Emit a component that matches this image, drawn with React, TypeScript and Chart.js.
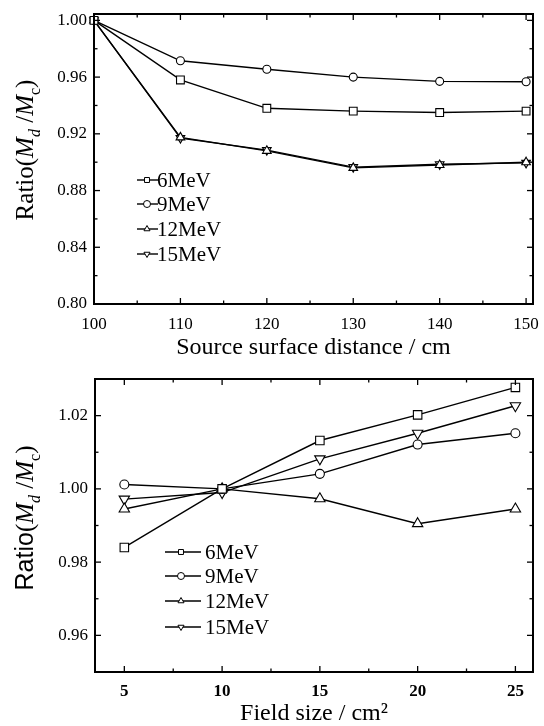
import { useEffect, useRef } from "react";
import { Chart, registerables } from "chart.js";

Chart.register(...registerables);

const SERIF = '"Liberation Serif", "Times New Roman", serif';
const SANS = '"Liberation Sans", Arial, sans-serif';

// ---- shared series info ----
const seriesNames = ["6MeV", "9MeV", "12MeV", "15MeV"];
const pointStyles = ["rect", "circle", "triangle", "triangle"];
const pointRotations = [0, 0, 0, 180];

// ---- top chart: source surface distance ----
const sddX = [100, 110, 120, 130, 140, 150];
const sdd6 = [1.0, 0.958, 0.938, 0.936, 0.935, 0.936];
const sdd9 = [1.0, 0.9715, 0.9655, 0.96, 0.957, 0.9567];
const sdd12 = [1.0, 0.9175, 0.908, 0.896, 0.898, 0.9];
const sdd15 = [1.0, 0.917, 0.9085, 0.8965, 0.8985, 0.8995];
const sddXTicks = [100, 110, 120, 130, 140, 150];
const sddXMinor = [105, 115, 125, 135, 145];
const sddYTicks = [0.8, 0.84, 0.88, 0.92, 0.96, 1.0];
const sddYMinor = [0.82, 0.86, 0.9, 0.94, 0.98];

// ---- bottom chart: field size ----
const fieldX = [5, 10, 15, 20, 25];
const field6 = [0.984, 1.0, 1.0132, 1.0202, 1.0277];
const field9 = [1.0012, 1.0, 1.0041, 1.0121, 1.0152];
const field12 = [0.9945, 1.0, 0.9973, 0.9905, 0.9945];
const field15 = [0.9972, 0.999, 1.0082, 1.0152, 1.0227];
const fieldXTicks = [5, 10, 15, 20, 25];
const fieldXMinor = [7.5, 12.5, 17.5, 22.5];
const fieldYTicks = [0.96, 0.98, 1.0, 1.02];
const fieldYMinor = [0.97, 0.99, 1.01];

function drawMarker(ctx: CanvasRenderingContext2D, style: string, rot: number, x: number, y: number, r: number) {
  ctx.beginPath();
  if (style === "rect") {
    const s = r * Math.SQRT1_2;
    ctx.rect(x - s, y - s, 2 * s, 2 * s);
  } else if (style === "circle") {
    ctx.arc(x, y, r, 0, Math.PI * 2);
  } else {
    for (let i = 0; i < 3; i++) {
      const a = (rot * Math.PI) / 180 + (i * 2 * Math.PI) / 3;
      const px = x + Math.sin(a) * r;
      const py = y - Math.cos(a) * r;
      if (i === 0) ctx.moveTo(px, py);
      else ctx.lineTo(px, py);
    }
    ctx.closePath();
  }
  ctx.fillStyle = "#fff";
  ctx.fill();
  ctx.stroke();
}

type Cfg = {
  height: number;
  xs: number[];
  ys: number[][];
  xTicks: number[];
  xMinor: number[];
  yTicks: number[];
  yMinor: number[];
  xMin: number;
  xMax: number;
  yMin: number;
  yMax: number;
  yDecimals: number;
  padTop: number;
  axisLeft: number;
  axisBottom: number;
  pointR: number[];
  xTitle: string;
  xTitleY: number;
  ratioFont: string;
  yTitleSize: number;
  yTitleY: number;
  legend: { x0: number; x1: number; mx: number; tx: number; rows: number[]; size: number; mr: number };
  xTickPad: number;
  xTickBold: boolean;
};

function makeDecor(cfg: Cfg) {
  return {
    id: "decor",
    afterDraw(chart: any) {
      const { ctx, chartArea: a, scales } = chart;
      const xs = scales.x;
      const ys = scales.y;
      ctx.save();
      ctx.strokeStyle = "#000";
      ctx.lineCap = "butt";
      // frame
      ctx.lineWidth = 2;
      ctx.strokeRect(a.left, a.top, a.right - a.left, a.bottom - a.top);
      // inward ticks
      ctx.lineWidth = 1.3;
      const seg = (x1: number, y1: number, x2: number, y2: number) => {
        ctx.beginPath();
        ctx.moveTo(x1, y1);
        ctx.lineTo(x2, y2);
        ctx.stroke();
      };
      const xt = (vals: number[], len: number) =>
        vals.forEach((v) => {
          const p = xs.getPixelForValue(v);
          seg(p, a.bottom, p, a.bottom - len);
          seg(p, a.top, p, a.top + len);
        });
      const yt = (vals: number[], len: number) =>
        vals.forEach((v) => {
          const p = ys.getPixelForValue(v);
          seg(a.left, p, a.left + len, p);
          seg(a.right, p, a.right - len, p);
        });
      xt(cfg.xTicks, 6);
      xt(cfg.xMinor, 3.5);
      yt(cfg.yTicks, 6);
      yt(cfg.yMinor, 3.5);

      // legend
      const L = cfg.legend;
      ctx.fillStyle = "#000";
      ctx.font = `${L.size}px ${SERIF}`;
      ctx.textBaseline = "middle";
      ctx.textAlign = "left";
      seriesNames.forEach((name, i) => {
        const y = L.rows[i];
        ctx.lineWidth = 1.4;
        seg(L.x0, y, L.x1, y);
        ctx.lineWidth = 1;
        drawMarker(ctx, pointStyles[i], pointRotations[i], L.mx, y, L.mr);
        ctx.fillStyle = "#000";
        ctx.font = `${L.size}px ${SERIF}`;
        ctx.fillText(name, L.tx, y + 1);
      });

      // x title
      ctx.font = `24px ${SERIF}`;
      ctx.textAlign = "center";
      ctx.textBaseline = "middle";
      ctx.fillText(cfg.xTitle, (a.left + a.right) / 2, cfg.xTitleY);

      // y title with italic M and subscripts
      const s = cfg.yTitleSize;
      const parts = [
        { t: "Ratio", f: `${s}px ${cfg.ratioFont}`, dy: 0 },
        { t: "(", f: `${s}px ${SERIF}`, dy: 0 },
        { t: "M", f: `italic ${s}px ${SERIF}`, dy: 0 },
        { t: "d", f: `italic ${Math.round(s * 0.62)}px ${SERIF}`, dy: s * 0.28 },
        { t: " /", f: `${s}px ${SERIF}`, dy: 0 },
        { t: "M", f: `italic ${s}px ${SERIF}`, dy: 0 },
        { t: "c", f: `${Math.round(s * 0.62)}px ${SERIF}`, dy: s * 0.28 },
        { t: ")", f: `${s}px ${SERIF}`, dy: 0 },
      ];
      let total = 0;
      const widths = parts.map((p) => {
        ctx.font = p.f;
        const w = ctx.measureText(p.t).width;
        total += w;
        return w;
      });
      ctx.translate(24, cfg.yTitleY);
      ctx.rotate(-Math.PI / 2);
      ctx.textAlign = "left";
      ctx.textBaseline = "alphabetic";
      let x = -total / 2;
      parts.forEach((p, i) => {
        ctx.font = p.f;
        ctx.fillText(p.t, x, s * 0.35 + p.dy);
        x += widths[i];
      });
      ctx.restore();
    },
  };
}

function RatioChart({ cfg }: { cfg: Cfg }) {
  const ref = useRef<HTMLCanvasElement>(null);
  useEffect(() => {
    document.body.style.margin = "0";
    const datasets = cfg.ys.map((vals, i) => ({
      label: seriesNames[i],
      data: vals.map((v, j) => ({ x: cfg.xs[j], y: v })),
      borderColor: "#000",
      borderWidth: 1.4,
      backgroundColor: "#fff",
      pointStyle: pointStyles[i] as any,
      rotation: pointRotations[i],
      pointRadius: cfg.pointR[i],
      pointBorderWidth: 1.1,
      pointBorderColor: "#000",
      pointBackgroundColor: "#fff",
      tension: 0,
      clip: false as any,
    }));
    const chart = new Chart(ref.current!, {
      type: "line",
      data: { datasets },
      plugins: [makeDecor(cfg)],
      options: {
        animation: false,
        responsive: false,
        devicePixelRatio: 1,
        layout: { padding: { left: 0, right: 11, top: cfg.padTop, bottom: 0 } },
        plugins: { legend: { display: false }, tooltip: { enabled: false } },
        scales: {
          x: {
            type: "linear",
            min: cfg.xMin,
            max: cfg.xMax,
            grid: { display: false, drawTicks: false },
            border: { display: false },
            afterBuildTicks: (scale: any) => {
              scale.ticks = cfg.xTicks.map((v) => ({ value: v }));
            },
            afterFit: (scale: any) => {
              scale.height = cfg.axisBottom;
              scale.paddingLeft = 0;
              scale.paddingRight = 0;
            },
            ticks: {
              autoSkip: false,
              maxRotation: 0,
              padding: cfg.xTickPad,
              color: "#000",
              font: { family: SERIF, size: 17, weight: cfg.xTickBold ? "bold" : "normal" },
              callback: (v: any) => String(v),
            },
          },
          y: {
            type: "linear",
            min: cfg.yMin,
            max: cfg.yMax,
            grid: { display: false, drawTicks: false },
            border: { display: false },
            afterBuildTicks: (scale: any) => {
              scale.ticks = cfg.yTicks.map((v) => ({ value: v }));
            },
            afterFit: (scale: any) => {
              scale.width = cfg.axisLeft;
              scale.paddingTop = 0;
              scale.paddingBottom = 0;
            },
            ticks: {
              autoSkip: false,
              padding: 7,
              color: "#000",
              font: { family: SERIF, size: 17 },
              callback: (v: any) => Number(v).toFixed(cfg.yDecimals),
            },
          },
        },
      } as any,
    });
    return () => chart.destroy();
  }, []);
  return (
    <div style={{ width: 544, height: cfg.height }}>
      <canvas ref={ref} width={544} height={cfg.height} style={{ display: "block" }} />
    </div>
  );
}

const topCfg: Cfg = {
  height: 360,
  xs: sddX,
  ys: [sdd6, sdd9, sdd12, sdd15],
  xTicks: sddXTicks,
  xMinor: sddXMinor,
  yTicks: sddYTicks,
  yMinor: sddYMinor,
  xMin: 100,
  xMax: 150.8,
  yMin: 0.8,
  yMax: 1.0045,
  yDecimals: 2,
  padTop: 14,
  axisLeft: 94,
  axisBottom: 56,
  pointR: [5.5, 4, 5, 5],
  xTitle: "Source surface distance / cm",
  xTitleY: 348,
  ratioFont: SERIF,
  yTitleSize: 25,
  yTitleY: 150,
  legend: { x0: 137, x1: 158, mx: 147, tx: 157, rows: [180, 204, 229, 254], size: 21, mr: 3.5 },
  xTickPad: 10,
  xTickBold: false,
};

const bottomCfg: Cfg = {
  height: 366,
  xs: fieldX,
  ys: [field6, field9, field12, field15],
  xTicks: fieldXTicks,
  xMinor: fieldXMinor,
  yTicks: fieldYTicks,
  yMinor: fieldYMinor,
  xMin: 3.5,
  xMax: 25.9,
  yMin: 0.95,
  yMax: 1.03,
  yDecimals: 2,
  padTop: 19,
  axisLeft: 95,
  axisBottom: 54,
  pointR: [6, 4.5, 6, 6],
  xTitle: "Field size / cm\u00B2",
  xTitleY: 354,
  ratioFont: SANS,
  yTitleSize: 25,
  yTitleY: 158,
  legend: { x0: 165, x1: 201, mx: 181, tx: 205, rows: [192, 216, 241, 267], size: 21, mr: 3.5 },
  xTickPad: 9,
  xTickBold: true,
};

export default function App() {
  return (
    <div style={{ width: 544, background: "#fff" }}>
      <RatioChart cfg={topCfg} />
      <RatioChart cfg={bottomCfg} />
    </div>
  );
}
